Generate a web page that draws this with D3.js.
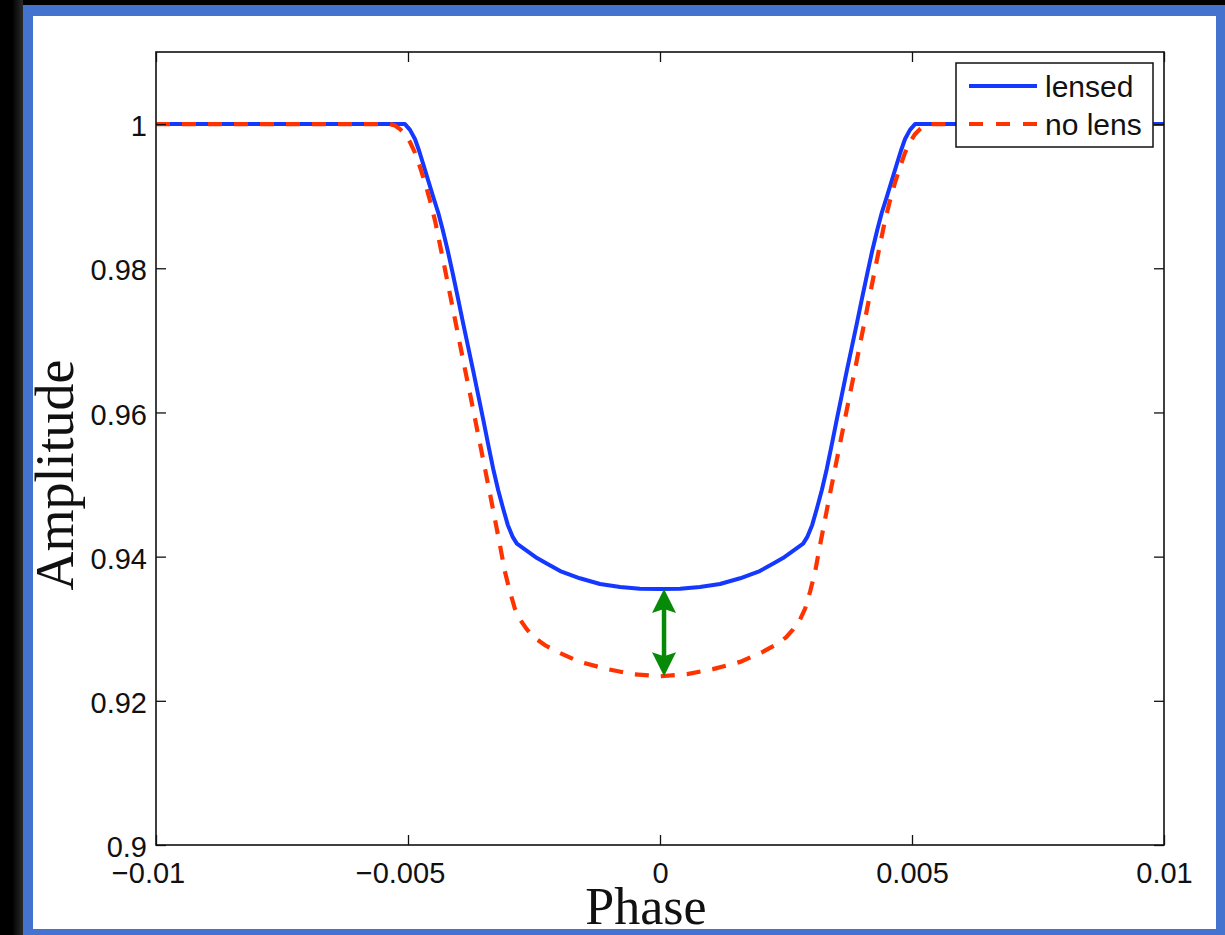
<!DOCTYPE html>
<html><head><meta charset="utf-8">
<script src="https://cdn.jsdelivr.net/npm/d3@7"></script>
<style>body{margin:0;background:#000;overflow:hidden}</style>
</head><body><svg id="c" width="1225" height="935"></svg>
<script>
// ---- data ----
const lensedPhase = [-0.01, -0.00506, -0.00496, -0.00486, -0.00478, -0.00470, -0.00460, -0.00450, -0.00440, -0.00431,
  -0.00421, -0.00411, -0.00401, -0.00391, -0.00381, -0.00371, -0.00361, -0.00351, -0.00341, -0.00331,
  -0.00321, -0.00311, -0.00302, -0.00292, -0.00284, -0.00264, -0.00244, -0.00224, -0.00198, -0.00159,
  -0.00119, -0.00079, -0.00040,
  0,
  0.00040, 0.00079, 0.00119,
  0.00159, 0.00198, 0.00224, 0.00244, 0.00264, 0.00284, 0.00292, 0.00302, 0.00311, 0.00321,
  0.00331, 0.00341, 0.00351, 0.00361, 0.00371, 0.00381, 0.00391, 0.00401, 0.00411, 0.00421,
  0.00431, 0.00440, 0.00450, 0.00460, 0.00470, 0.00478, 0.00486, 0.00496, 0.00506, 0.01];
const lensedAmp = [1, 1, 0.9992, 0.9979, 0.9963, 0.9945, 0.9922, 0.9899, 0.9877, 0.9853,
  0.9824, 0.9792, 0.9759, 0.9725, 0.9692, 0.9659, 0.9625, 0.9591, 0.9556, 0.9522,
  0.9492, 0.9466, 0.9444, 0.9427, 0.9418, 0.9408, 0.9398, 0.9390, 0.9380, 0.9370,
  0.9362, 0.9358, 0.93555,
  0.9355,
  0.93555, 0.9358, 0.9362,
  0.9370, 0.9380, 0.9390, 0.9398, 0.9408, 0.9418, 0.9427, 0.9444, 0.9466, 0.9492,
  0.9522, 0.9556, 0.9591, 0.9625, 0.9659, 0.9692, 0.9725, 0.9759, 0.9792, 0.9824,
  0.9853, 0.9877, 0.9899, 0.9922, 0.9945, 0.9963, 0.9979, 0.9992, 1, 1];
const noLensPhase = [-0.01, -0.0056, -0.00536, -0.00526, -0.00516, -0.00506, -0.00496, -0.00486, -0.00476, -0.00466,
  -0.00456, -0.00446, -0.00437, -0.00427, -0.00417, -0.00407, -0.00397, -0.00387, -0.00377, -0.00367,
  -0.00357, -0.00347, -0.00337, -0.00327, -0.00317, -0.00308, -0.00298, -0.00288, -0.00278, -0.00264,
  -0.00250, -0.00228, -0.00204, -0.00159, -0.00105, -0.00054,
  0,
  0.00054, 0.00105, 0.00159, 0.00204, 0.00228, 0.00250, 0.00264, 0.00278, 0.00288, 0.00298,
  0.00308, 0.00317, 0.00327, 0.00337, 0.00347, 0.00357, 0.00367, 0.00377, 0.00387, 0.00397,
  0.00407, 0.00417, 0.00427, 0.00437, 0.00446, 0.00456, 0.00466, 0.00476, 0.00486, 0.00496,
  0.00506, 0.00516, 0.00526, 0.00536, 0.0056, 0.01];
const noLensAmp = [1, 1, 1, 0.9998, 0.9993, 0.9986, 0.9975, 0.9960, 0.9940, 0.9918,
  0.9893, 0.9865, 0.9834, 0.9800, 0.9765, 0.9730, 0.9695, 0.9660, 0.9626, 0.9591,
  0.9556, 0.9521, 0.9486, 0.9450, 0.9414, 0.9380, 0.9352, 0.9328, 0.9313, 0.9299,
  0.9288, 0.9277, 0.9268, 0.9254, 0.9244, 0.9237,
  0.9234,
  0.9237, 0.9244, 0.9254, 0.9268, 0.9277, 0.9288, 0.9299, 0.9313, 0.9328, 0.9352,
  0.9380, 0.9414, 0.9450, 0.9486, 0.9521, 0.9556, 0.9591, 0.9626, 0.9660, 0.9695,
  0.9730, 0.9765, 0.9800, 0.9834, 0.9865, 0.9893, 0.9918, 0.9940, 0.9960, 0.9975,
  0.9986, 0.9993, 0.9998, 1, 1, 1];
const seriesNames = ["lensed", "no lens"];
const xTicks = [-0.01, -0.005, 0, 0.005, 0.01];
const xTickLabels = ["\u22120.01", "\u22120.005", "0", "0.005", "0.01"];
const yTicks = [0.9, 0.92, 0.94, 0.96, 0.98, 1];
const yTickLabels = ["0.9", "0.92", "0.94", "0.96", "0.98", "1"];
const arrowPhase = [0.00008];
const arrowAmp = [0.9355, 0.9234];
const xTitle = "Phase", yTitle = "Amplitude";

// ---- drawing ----
const svg = d3.select("#c");
const defs = svg.append("defs");
const g1 = defs.append("linearGradient").attr("id", "shadow").attr("x1", 0).attr("x2", 1);
g1.append("stop").attr("offset", 0).attr("stop-color", "#000");
g1.append("stop").attr("offset", 1).attr("stop-color", "#2a2a2a");
svg.append("rect").attr("width", 1225).attr("height", 935).attr("fill", "#000");
svg.append("rect").attr("x", 12).attr("y", 0).attr("width", 11).attr("height", 935).attr("fill", "url(#shadow)");
svg.append("rect").attr("x", 23).attr("y", 5).attr("width", 1202).attr("height", 930).attr("fill", "#4373cf");
svg.append("rect").attr("x", 33).attr("y", 16).attr("width", 1183).attr("height", 913).attr("fill", "#fff");

const L = 156, R = 1164, T = 52, B = 845;
const x = d3.scaleLinear().domain([-0.01, 0.01]).range([L, R]);
const y = d3.scaleLinear().domain([0.9, 1.01]).range([B, T]);

defs.append("clipPath").attr("id", "clip").append("rect")
  .attr("x", L).attr("y", T).attr("width", R - L).attr("height", B - T);

const plot = svg.append("g").attr("clip-path", "url(#clip)");
const line = d3.line().x(d => x(d[0])).y(d => y(d[1])).curve(d3.curveLinear);
plot.append("path").datum(lensedPhase.map((p, i) => [p, lensedAmp[i]]))
  .attr("d", line).attr("fill", "none").attr("stroke", "#1438ff").attr("stroke-width", 4)
  .attr("stroke-linejoin", "round");
plot.append("path").datum(noLensPhase.map((p, i) => [p, noLensAmp[i]]))
  .attr("d", line).attr("fill", "none").attr("stroke", "#ff3300").attr("stroke-width", 4.2)
  .attr("stroke-dasharray", "14,12");

// arrow
const ax = x(arrowPhase[0]), ay1 = y(arrowAmp[0]), ay2 = y(arrowAmp[1]);
const green = "#078a07";
svg.append("line").attr("x1", ax).attr("x2", ax).attr("y1", ay1 + 15).attr("y2", ay2 - 15)
  .attr("stroke", green).attr("stroke-width", 4.5);
svg.append("path").attr("fill", green)
  .attr("d", `M${ax},${ay1} L${ax - 12},${ay1 + 24} L${ax},${ay1 + 20} L${ax + 12},${ay1 + 24} Z`);
svg.append("path").attr("fill", green)
  .attr("d", `M${ax},${ay2} L${ax - 12},${ay2 - 24} L${ax},${ay2 - 20} L${ax + 12},${ay2 - 24} Z`);

// axes
const fs = 29;
const styleAxis = (g) => {
  g.select(".domain").remove();
  g.selectAll(".tick line").attr("stroke", "#111").attr("stroke-width", 1.3);
  g.selectAll("text").attr("font-family", "'Liberation Sans', Arial, sans-serif")
    .attr("font-size", fs).attr("fill", "#111");
};
svg.append("g").attr("transform", `translate(0,${B})`)
  .call(d3.axisBottom(x).tickValues(xTicks).tickSizeInner(-10).tickSizeOuter(0).tickPadding(17)
    .tickFormat((d, i) => xTickLabels[i]))
  .call(styleAxis)
  .call(g => g.selectAll("text").attr("dx", (d) => d < 0 ? -8 : 0));
svg.append("g").attr("transform", `translate(0,${T})`)
  .call(d3.axisTop(x).tickValues(xTicks).tickSizeInner(-10).tickSizeOuter(0).tickFormat(""))
  .call(styleAxis);
svg.append("g").attr("transform", `translate(${L},0)`)
  .call(d3.axisLeft(y).tickValues(yTicks).tickSizeInner(-10).tickSizeOuter(0).tickPadding(9)
    .tickFormat((d, i) => yTickLabels[i]))
  .call(styleAxis)
  .call(g => g.selectAll("text").attr("dy", "0.4em"));
svg.append("g").attr("transform", `translate(${R},0)`)
  .call(d3.axisRight(y).tickValues(yTicks).tickSizeInner(-10).tickSizeOuter(0).tickFormat(""))
  .call(styleAxis);
svg.append("rect").attr("x", L).attr("y", T).attr("width", R - L).attr("height", B - T)
  .attr("fill", "none").attr("stroke", "#111").attr("stroke-width", 1.6);

// titles
svg.append("text").attr("x", 646).attr("y", 924).attr("text-anchor", "middle")
  .attr("font-family", "'Liberation Serif', 'Times New Roman', serif").attr("font-size", 52)
  .attr("fill", "#111").text(xTitle);
svg.append("text").attr("transform", "translate(73,475) rotate(-90)").attr("text-anchor", "middle")
  .attr("font-family", "'Liberation Serif', 'Times New Roman', serif").attr("font-size", 54)
  .attr("fill", "#111").text(yTitle);

// legend
const lg = svg.append("g");
lg.append("rect").attr("x", 956).attr("y", 63).attr("width", 197).attr("height", 84)
  .attr("fill", "#fff").attr("stroke", "#111").attr("stroke-width", 1.5);
const legendY = [86, 124];
const legendStyle = [{c: "#1438ff", dash: null}, {c: "#ff3300", dash: "14,13"}];
seriesNames.forEach((name, i) => {
  lg.append("line").attr("x1", 969).attr("x2", 1037).attr("y1", legendY[i]).attr("y2", legendY[i])
    .attr("stroke", legendStyle[i].c).attr("stroke-width", 4)
    .attr("stroke-dasharray", legendStyle[i].dash);
  lg.append("text").attr("x", 1045).attr("y", legendY[i] + 11)
    .attr("font-family", "'Liberation Sans', Arial, sans-serif").attr("font-size", 30)
    .attr("fill", "#111").text(name);
});
</script></body></html>
